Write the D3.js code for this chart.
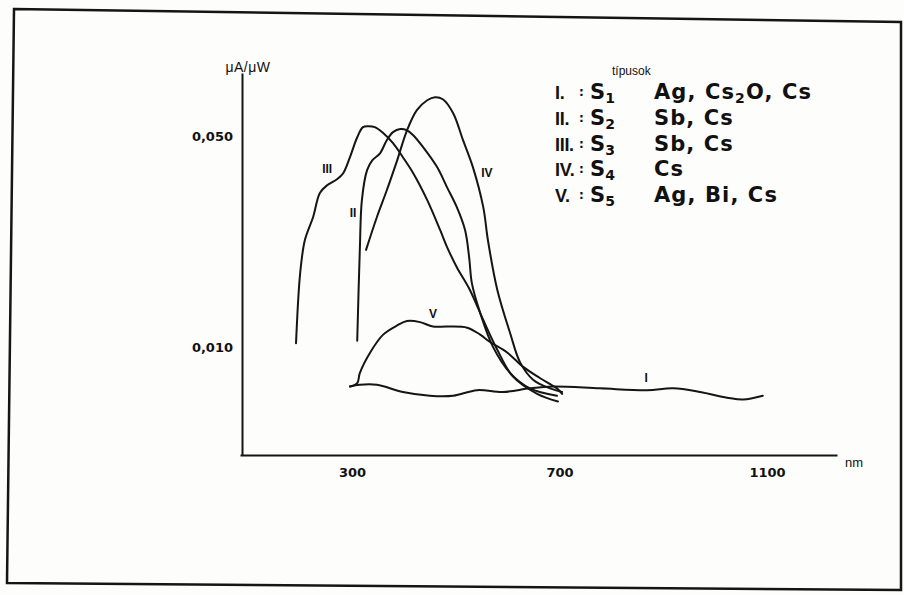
<!DOCTYPE html>
<html>
<head>
<meta charset="utf-8">
<script src="https://cdn.jsdelivr.net/npm/d3@7"></script>
<style>
  html, body { margin: 0; padding: 0; background: #fdfdfb; }
  svg { display: block; }
  .lbl { font-family: "Liberation Sans", Arial, sans-serif; fill: #111; }
  .leg { font-family: "DejaVu Sans", sans-serif; font-weight: bold; fill: #111; }
</style>
</head>
<body>
<div id="app"></div>
<script>
// photocathode types, spectral sensitivity (nm, uA/uW)
var xTicks = [300, 700, 1100]
var yTicks = [0.01, 0.05]

var curveI_nm  = [296, 315, 348, 398, 450, 495, 541, 591, 643, 687, 778, 869, 919, 971, 1023, 1054, 1092]
var curveI_val = [0.0074, 0.0075, 0.0075, 0.0071, 0.0069, 0.0069, 0.0072, 0.0071, 0.0073, 0.0074, 0.0073, 0.0072, 0.0073, 0.0071, 0.0068, 0.0067, 0.0069]

var curveII_nm  = [310, 315, 319, 329, 339, 354, 367, 379, 393, 406, 418, 437, 464, 483, 502, 518, 526, 531, 547, 572, 605, 643, 695]
var curveII_val = [0.0105, 0.021, 0.0307, 0.0386, 0.0416, 0.0439, 0.0485, 0.0516, 0.0528, 0.0523, 0.0504, 0.046, 0.0395, 0.0339, 0.0291, 0.0244, 0.0197, 0.0163, 0.013, 0.010, 0.0082, 0.0073, 0.0069]

var curveIII_nm  = [192, 200, 209, 225, 238, 252, 271, 283, 296, 310, 321, 331, 344, 360, 379, 398, 418, 445, 470, 483, 502, 527, 553, 580, 610, 657, 697]
var curveIII_val = [0.0103, 0.0176, 0.0226, 0.027, 0.0324, 0.0344, 0.036, 0.0377, 0.0426, 0.0496, 0.0536, 0.054, 0.0536, 0.0512, 0.0474, 0.0426, 0.0377, 0.0307, 0.0244, 0.0215, 0.0184, 0.0155, 0.0123, 0.0098, 0.008, 0.007, 0.0066]

var curveIV_nm  = [327, 348, 367, 387, 406, 425, 445, 460, 475, 495, 514, 533, 553, 562, 580, 605, 624, 649, 682, 705]
var curveIV_val = [0.021, 0.027, 0.0331, 0.0416, 0.0523, 0.061, 0.0658, 0.0673, 0.0663, 0.0596, 0.0485, 0.0395, 0.0291, 0.0226, 0.0155, 0.0111, 0.0089, 0.0078, 0.0073, 0.0071]

var curveV_nm  = [296, 310, 315, 335, 360, 387, 406, 431, 456, 483, 522, 547, 566, 599, 630, 662, 695, 705]
var curveV_val = [0.0074, 0.0076, 0.0082, 0.0096, 0.011, 0.0118, 0.0122, 0.0121, 0.0117, 0.0117, 0.0116, 0.011, 0.0104, 0.0096, 0.0086, 0.0079, 0.0073, 0.007]

// curve name labels, placed in data space
var curveNames = ['I', 'II', 'III', 'IV', 'V']
var nameNm  = [867, 302, 252, 560, 456]
var nameVal = [0.0079, 0.0278, 0.0389, 0.0377, 0.0129]

// legend
var legendTitle = 'típusok'
var legendRoman = ['I.', 'II.', 'III.', 'IV.', 'V.']
var legendSub   = ['1', '2', '3', '4', '5']
var legendMat   = [['Ag, Cs', '2', 'O, Cs'], ['Sb, Cs'], ['Sb, Cs'], ['Cs'], ['Ag, Bi, Cs']]

var width = 904
var height = 595

var svg = d3.select('#app')
	.append('svg')
	  .attr('width', width)
	  .attr('height', height)

// scanned page frame
svg.append('path')
	.attr('d', 'M14,9 L901,22 L901,590 L7,583 Z')
	.attr('fill', 'none')
	.attr('stroke', '#151515')
	.attr('stroke-width', 2.5)

var x = d3.scaleLinear()
	.domain([84, 1235])
	.range([240, 837])

var y = d3.scaleLog()
	.domain([0.00439, 0.081])
	.range([455, 73])

var fmt = function(d) { return d3.format('.3f')(d).replace('.', ',') }

var gx = svg.append('g')
	.attr('transform', 'translate(0,455)')
	.call(d3.axisBottom(x).tickValues(xTicks).tickSize(0).tickSizeOuter(0).tickPadding(13).tickFormat(d3.format('d')))

var gy = svg.append('g')
	.attr('transform', 'translate(242,0)')
	.call(d3.axisLeft(y).tickValues(yTicks).tickSize(0).tickSizeOuter(0).tickPadding(9).tickFormat(fmt))

svg.selectAll('.domain').attr('stroke', '#151515').attr('stroke-width', 2)
svg.selectAll('.tick text')
	.attr('font-family', '"DejaVu Sans", sans-serif')
	.attr('font-weight', 'bold')
	.attr('font-size', 13)
	.attr('fill', '#111')

svg.append('text').attr('class', 'lbl')
	.attr('x', 845).attr('y', 467)
	.attr('font-size', 13)
	.text('nm')

svg.append('text').attr('class', 'lbl')
	.attr('x', 248).attr('y', 72)
	.attr('text-anchor', 'middle')
	.attr('font-size', 14)
	.attr('letter-spacing', 0.5)
	.text('μA/μW')

// curves
var series = [
	[curveI_nm, curveI_val],
	[curveII_nm, curveII_val],
	[curveIII_nm, curveIII_val],
	[curveIV_nm, curveIV_val],
	[curveV_nm, curveV_val]
]

var line = d3.line()
	.x(function(d) { return x(d[0]) })
	.y(function(d) { return y(d[1]) })
	.curve(d3.curveCatmullRom.alpha(0.5))

svg.append('g').selectAll('path')
	.data(series)
  .enter()
	.append('path')
	.attr('fill', 'none')
	.attr('stroke', '#151515')
	.attr('stroke-width', 2)
	.attr('stroke-linejoin', 'round')
	.attr('stroke-linecap', 'round')
	.attr('d', function(s) { return line(d3.zip(s[0], s[1])) })

svg.append('g').selectAll('text')
	.data(curveNames)
  .enter()
	.append('text')
	.attr('class', 'lbl')
	.attr('x', function(d, i) { return x(nameNm[i]) })
	.attr('y', function(d, i) { return y(nameVal[i]) })
	.attr('dy', '0.35em')
	.attr('text-anchor', 'middle')
	.attr('font-weight', 'bold')
	.attr('font-size', 12)
	.text(function(d) { return d })

// legend
svg.append('text').attr('class', 'lbl')
	.attr('x', 612).attr('y', 75)
	.attr('font-size', 12)
	.text(legendTitle)

var rows = svg.append('g').selectAll('g')
	.data(legendRoman)
  .enter()
	.append('g')
	.attr('transform', function(d, i) { return 'translate(0,' + (99 + i * 25.8) + ')' })

rows.append('text').attr('class', 'lbl')
	.attr('x', 555).attr('font-size', 18).attr('font-weight', 'bold')
	.attr('letter-spacing', -0.3)
	.text(function(d) { return d })

rows.append('text').attr('class', 'leg')
	.attr('x', 579).attr('y', -3).attr('font-size', 12)
	.text(':')

var sText = rows.append('text').attr('class', 'leg')
	.attr('x', 590).attr('font-size', 21)
sText.append('tspan').text('S')
sText.append('tspan').attr('dy', 4).attr('font-size', 14).text(function(d, i) { return legendSub[i] })

var mText = rows.append('text').attr('class', 'leg')
	.attr('x', 654).attr('font-size', 21)
	.attr('letter-spacing', 1.1)
mText.each(function(d, i) {
	var t = d3.select(this)
	var parts = legendMat[i]
	t.append('tspan').text(parts[0])
	if (parts.length > 1) {
		t.append('tspan').attr('dy', 4).attr('font-size', 14).text(parts[1])
		t.append('tspan').attr('dy', -4).text(parts[2])
	}
})
</script>
</body>
</html>
